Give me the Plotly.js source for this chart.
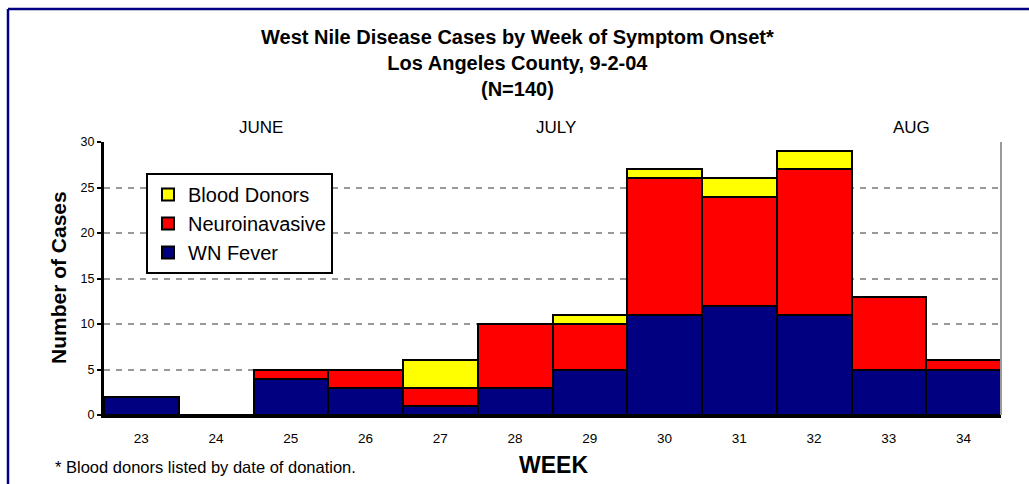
<!DOCTYPE html>
<html>
<head>
<meta charset="utf-8">
<script src="https://cdn.plot.ly/plotly-3.0.1.min.js"></script>
<style>
  html, body { margin: 0; padding: 0; background: #fff; }
  #chart { width: 1029px; height: 484px; }
</style>
</head>
<body>
<div id="chart"></div>
<script>
// ---- data ----
const weeks = ["23","24","25","26","27","28","29","30","31","32","33","34"];
const wnFever = [2, 0, 4, 3, 1, 3, 5, 11, 12, 11, 5, 5];
const neuroinvasive = [0, 0, 1, 2, 2, 7, 5, 15, 12, 16, 8, 1];
const bloodDonors = [0, 0, 0, 0, 3, 0, 1, 1, 2, 2, 0, 0];
const monthLabels = ["JUNE", "JULY", "AUG"];
const monthPositions = [1.6, 5.55, 10.3];
const titleLines = ["West Nile Disease Cases by Week of Symptom Onset*", "Los Angeles County, 9-2-04", "(N=140)"];

const FONT = "Liberation Sans, Arial, sans-serif";
const barLine = { color: "#000", width: 2 };

const traces = [
  { type: "bar", name: "WN Fever", x: weeks, y: wnFever,
    marker: { color: "#000080", line: barLine } },
  { type: "bar", name: "Neuroinavasive", x: weeks, y: neuroinvasive,
    marker: { color: "#ff0000", line: barLine } },
  { type: "bar", name: "Blood Donors", x: weeks, y: bloodDonors,
    marker: { color: "#ffff00", line: barLine } }
];

const L = 104, R = 28, T = 142, B = 69, W = 1029, H = 484;
const pw = W - L - R, ph = H - T - B;
const fx = px => (px - L) / pw;
const fy = py => (H - B - py) / ph;

const annotations = monthLabels.map((m, i) => ({
  text: m, x: monthPositions[i], xref: "x", y: fy(127), yref: "paper",
  showarrow: false, font: { family: FONT, size: 17, color: "#000" },
  xanchor: "center", yanchor: "middle"
}));
annotations.push({
  text: "<b>" + titleLines.join("<br>") + "</b>", x: fx(517), xref: "paper", y: fy(63), yref: "paper",
  showarrow: false, font: { family: FONT, size: 20, color: "#000" },
  xanchor: "center", yanchor: "middle", align: "center"
});
annotations.push({
  text: "<b>WEEK</b>", x: fx(553), xref: "paper", y: fy(465), yref: "paper",
  showarrow: false, font: { family: FONT, size: 23, color: "#000" },
  xanchor: "center", yanchor: "middle"
});
annotations.push({
  text: "* Blood donors listed by date of donation.", x: fx(53), xref: "paper",
  y: fy(467), yref: "paper", showarrow: false,
  font: { family: FONT, size: 16.5, color: "#000" }, xanchor: "left", yanchor: "middle"
});
annotations.push({
  text: "<b>Number of Cases</b>", x: fx(58), xref: "paper", y: fy(278), yref: "paper",
  showarrow: false, textangle: -90, font: { family: FONT, size: 21, color: "#000" },
  xanchor: "center", yanchor: "middle"
});

const layout = {
  width: W, height: H,
  margin: { l: L, r: R, t: T, b: B, pad: 0 },
  paper_bgcolor: "#fff", plot_bgcolor: "#fff",
  barmode: "stack", bargap: 0,
  xaxis: {
    type: "category", showgrid: false, zeroline: false,
    showline: true, linecolor: "#000", linewidth: 3,
    ticks: "", ticklabelstandoff: 9,
    tickfont: { family: FONT, size: 13.5, color: "#000" },
    range: [-0.5, 11.5]
  },
  yaxis: {
    range: [0, 30], dtick: 5, showgrid: true, gridcolor: "#999", gridwidth: 2,
    griddash: "6px,6px", zeroline: false,
    showline: true, linecolor: "#000", linewidth: 3,
    ticks: "outside", ticklen: 4, tickwidth: 2, tickcolor: "#000",
    tickfont: { family: FONT, size: 12.5, color: "#000" }
  },
  legend: {
    x: fx(146), y: fy(173), xanchor: "left", yanchor: "top",
    bgcolor: "#fff", bordercolor: "#000", borderwidth: 2,
    traceorder: "reversed",
    font: { family: FONT, size: 20, color: "#000" }
  },
  showlegend: true,
  annotations: annotations,
  shapes: [
    { type: "line", xref: "paper", yref: "paper", x0: 1, x1: 1, y0: 0, y1: 1,
      line: { color: "#999", width: 2 } },
    { type: "line", xref: "paper", yref: "paper", x0: fx(8), x1: fx(1040), y0: fy(9), y1: fy(9),
      line: { color: "#000080", width: 2.5 } },
    { type: "line", xref: "paper", yref: "paper", x0: fx(8), x1: fx(8), y0: fy(9), y1: fy(500),
      line: { color: "#000080", width: 2.5 } }
  ]
};

Plotly.newPlot("chart", traces, layout, { displayModeBar: false, staticPlot: true });
</script>
</body>
</html>
